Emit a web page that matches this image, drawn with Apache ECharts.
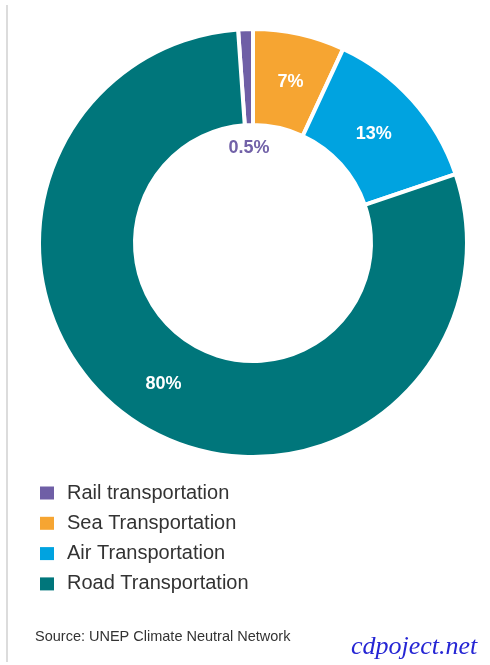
<!DOCTYPE html>
<html>
<head>
<meta charset="utf-8">
<script src="https://cdn.jsdelivr.net/npm/echarts@6/dist/echarts.min.js"></script>
<style>
html,body{margin:0;padding:0;background:#fff;}
#chart{width:490px;height:665px;}
</style>
</head>
<body>
<div id="chart"></div>
<script>
var categories = ['Rail transportation', 'Sea Transportation', 'Air Transportation', 'Road Transportation'];
var values = [0.5, 7, 13, 80];
var colors = ['#6f5fa6', '#f6a532', '#00a3e0', '#00767b'];
var sourceText = 'Source: UNEP Climate Neutral Network';
var watermark = 'cdpoject.net';

var labelShift = [[2, 74], [1, 4], [-5, 4], [4, 0]];

var chart = echarts.init(document.getElementById('chart'), null, {renderer: 'canvas'});

var data = categories.map(function (name, i) {
  var item = { name: name, value: values[i], itemStyle: { color: colors[i] } };
  if (i === 0) {
    item.label = { color: '#7262a8' };
  }
  return item;
});

chart.setOption({
  animation: false,
  backgroundColor: '#ffffff',
  title: [
    {
      text: sourceText,
      left: 30,
      top: 624,
      textStyle: { fontFamily: 'Liberation Sans, Arial, sans-serif', fontSize: 14.5, fontWeight: 'normal', color: '#333333' }
    },
    {
      text: watermark,
      left: 346,
      top: 629,
      textStyle: { fontFamily: 'Liberation Serif, Times New Roman, serif', fontStyle: 'italic', fontSize: 26, fontWeight: 'normal', color: '#2626d4' }
    }
  ],
  legend: {
    orient: 'vertical',
    left: 35,
    top: 478,
    icon: 'rect',
    itemWidth: 14,
    itemHeight: 13,
    itemGap: 10.3,
    selectedMode: false,
    data: categories,
    itemStyle: { borderWidth: 0 },
    textStyle: {
      fontFamily: 'Liberation Sans, Arial, sans-serif',
      fontSize: 20,
      lineHeight: 20,
      color: '#333333',
      padding: [0, 0, 0, 8]
    }
  },
  graphic: [
    {
      type: 'line',
      shape: { x1: 7, y1: 5, x2: 7, y2: 662 },
      style: { stroke: '#dcdcdc', lineWidth: 2 },
      silent: true
    }
  ],
  series: [
    {
      type: 'pie',
      center: [253, 243],
      radius: [118, 214],
      startAngle: 94,
      minAngle: 4,
      clockwise: true,
      avoidLabelOverlap: false,
      silent: true,
      itemStyle: { borderColor: '#ffffff', borderWidth: 4 },
      label: {
        show: true,
        position: 'inside',
        formatter: '{c}%',
        color: '#ffffff',
        fontFamily: 'Liberation Sans, Arial, sans-serif',
        fontSize: 18,
        fontWeight: 'bold'
      },
      labelLine: { show: false },
      labelLayout: function (params) {
        var s = labelShift[params.dataIndex] || [0, 0];
        return { dx: s[0], dy: s[1] };
      },
      emphasis: { disabled: true },
      data: data
    }
  ]
});
</script>
</body>
</html>
